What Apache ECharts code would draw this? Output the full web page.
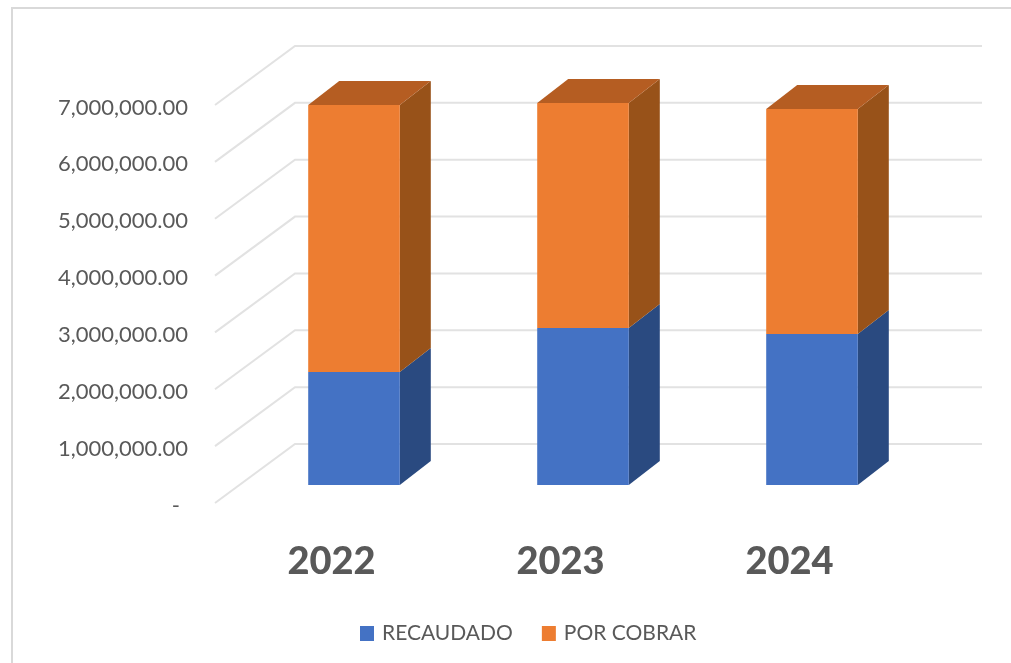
<!DOCTYPE html>
<html>
<head>
<meta charset="utf-8">
<style>html,body{margin:0;padding:0;background:#fff}#c{width:1011px;height:663px}</style>
<script src="https://cdn.jsdelivr.net/npm/echarts@6/dist/echarts.min.js"></script>
</head>
<body>
<div id="c"></div>
<script>
const years = ['2022', '2023', '2024'];
const recaudado = [1987000, 2761000, 2656000];
const porCobrar = [4698000, 3957000, 3957000];
const ticks = [0, 1000000, 2000000, 3000000, 4000000, 5000000, 6000000, 7000000];

const FONT = 'Lato, "Open Sans", sans-serif';
const WALL = { dx: 80, dy: 59, inset: 2 };
const PLANE = { dx: 22.5, dy: 18 };
const DEPTH = { dx: 31, dy: 24 };
const BAR_FRACTION = 0.4;

function poly(points, fill) {
  return { type: 'polygon', shape: { points }, style: { fill } };
}
function barRenderer(front, side, top) {
  return function (params, api) {
    const i = api.value(0);
    const y0 = api.coord([i, api.value(1)])[1] - PLANE.dy;
    const c = api.coord([i, api.value(2)]);
    const y1 = c[1] - PLANE.dy;
    const w = api.size([1, 0])[0] * BAR_FRACTION;
    const xl = c[0] + PLANE.dx - w / 2, xr = xl + w;
    const kids = [
      poly([[xr, y0], [xr + DEPTH.dx, y0 - DEPTH.dy], [xr + DEPTH.dx, y1 - DEPTH.dy], [xr, y1]], side),
      poly([[xl, y0], [xr, y0], [xr, y1], [xl, y1]], front)
    ];
    if (top) kids.push(poly([[xl, y1], [xr, y1], [xr + DEPTH.dx, y1 - DEPTH.dy], [xl + DEPTH.dx, y1 - DEPTH.dy]], top));
    return { type: 'group', children: kids };
  };
}
function gridRenderer(params, api) {
  const cs = params.coordSys;
  const y = api.coord([0, api.value(1)])[1];
  return {
    type: 'polyline',
    shape: { points: [[cs.x - WALL.inset, y], [cs.x - WALL.inset + WALL.dx, y - WALL.dy], [cs.x + cs.width + WALL.dx - WALL.inset, y - WALL.dy]] },
    style: { stroke: '#e2e2e2', lineWidth: 2, fill: null }
  };
}

const labelToken = { fontFamily: FONT, fontSize: 22, color: '#595959', padding: [5, 0, 0, 0] };
const chart = echarts.init(document.getElementById('c'), null, { renderer: 'canvas' });
chart.setOption({
  animation: false,
  backgroundColor: '#fff',
  grid: { left: 217, top: 105, width: 687, height: 398 },
  xAxis: {
    type: 'category', data: years,
    axisLine: { show: false }, axisTick: { show: false }, splitLine: { show: false },
    axisLabel: { fontFamily: FONT, fontWeight: 900, fontSize: 38, color: '#595959', margin: 40 }
  },
  yAxis: {
    type: 'value', min: 0, max: 7000000, interval: 1000000,
    axisLine: { show: false }, axisTick: { show: false }, splitLine: { show: false },
    axisLabel: {
      margin: 29,
      rich: { n: labelToken, z: Object.assign({}, labelToken, { padding: [5, 8, 0, 0] }) },
      formatter: v => v === 0 ? '{z|-}' : '{n|' + v.toLocaleString('en-US', { minimumFractionDigits: 2, maximumFractionDigits: 2 }) + '}'
    }
  },
  legend: {
    data: ['RECAUDADO', 'POR COBRAR'], left: 355, top: 618,
    itemWidth: 14, itemHeight: 15, itemGap: 29,
    icon: 'rect',
    textStyle: { fontFamily: FONT, fontSize: 21, color: '#595959', padding: [0, 0, 0, 3] }
  },
  graphic: [{
    type: 'polyline', silent: true,
    shape: { points: [[12, 663], [12, 8], [1011, 8]] },
    style: { stroke: '#d9d9d9', lineWidth: 2, fill: null }
  }],
  series: [
    {
      type: 'custom', name: 'grid', silent: true, clip: false, z: 1,
      renderItem: gridRenderer,
      data: ticks.map(t => [0, t]), encode: { x: 0, y: 1 }
    },
    {
      type: 'custom', name: 'RECAUDADO', clip: false, z: 2,
      itemStyle: { color: '#4472C4' },
      renderItem: barRenderer('#4472C4', '#2A4A80', null),
      data: years.map((y, i) => [i, 0, recaudado[i]]), encode: { x: 0, y: 2 }
    },
    {
      type: 'custom', name: 'POR COBRAR', clip: false, z: 3,
      itemStyle: { color: '#ED7D31' },
      renderItem: barRenderer('#ED7D31', '#985219', '#B55D22'),
      data: years.map((y, i) => [i, recaudado[i], recaudado[i] + porCobrar[i]]), encode: { x: 0, y: 2 }
    }
  ]
});
</script>
</body>
</html>
